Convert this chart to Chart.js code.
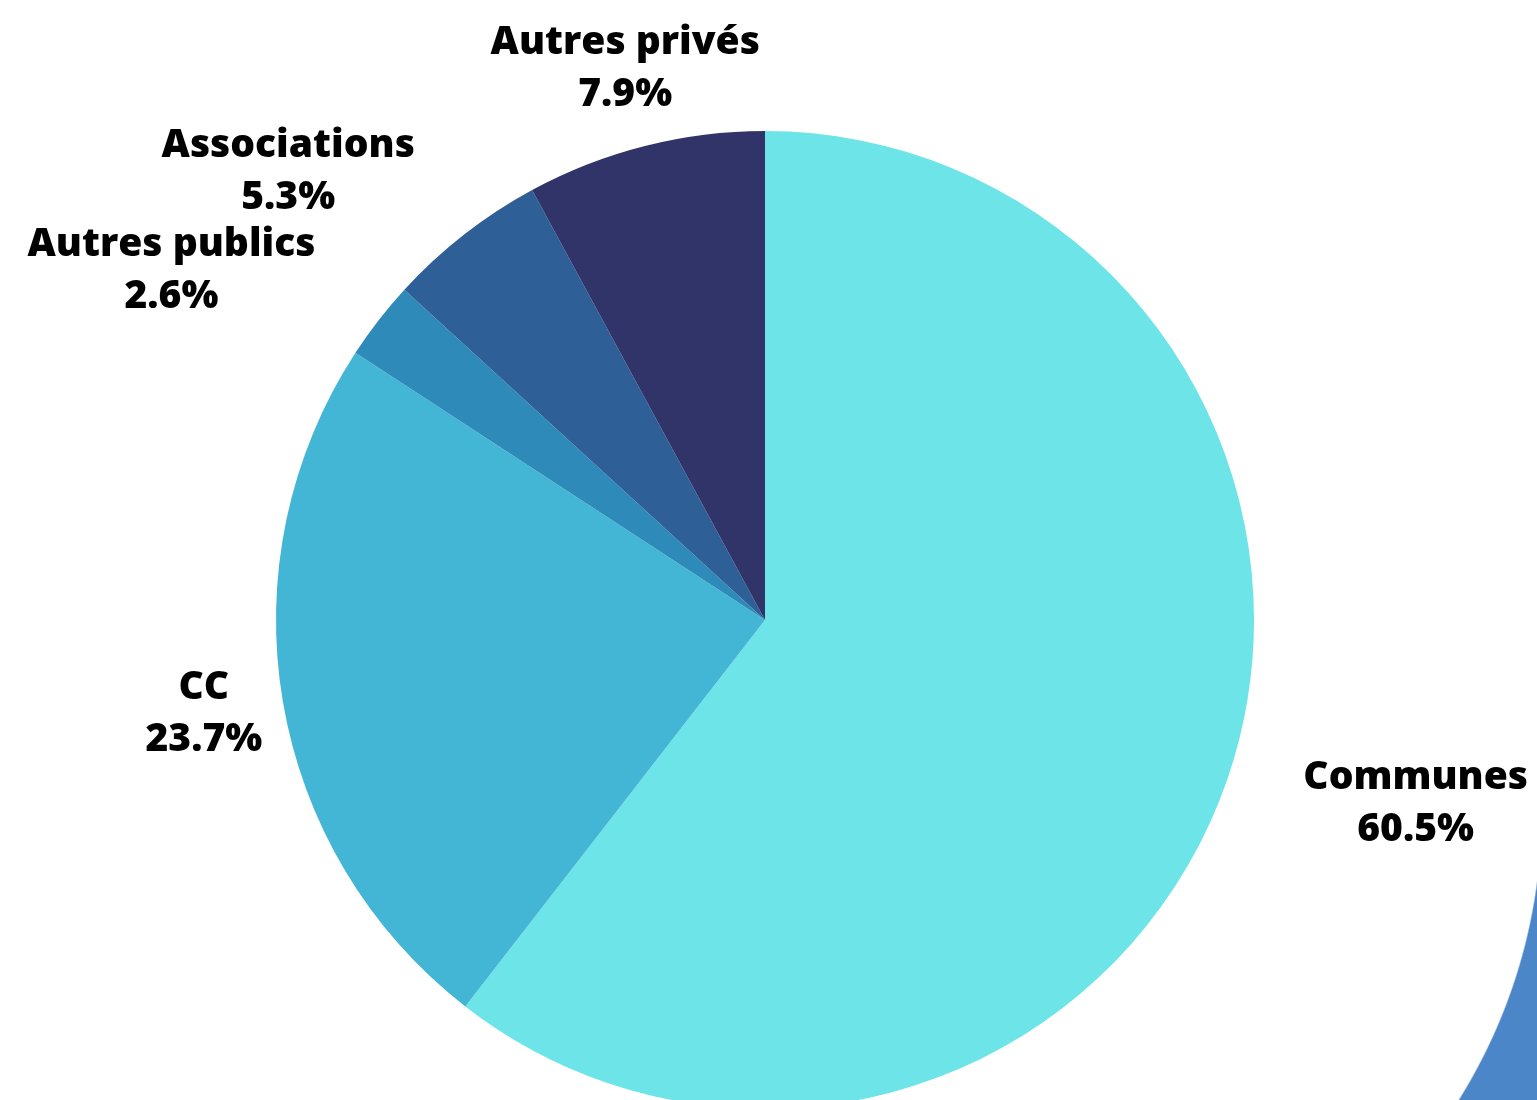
<!DOCTYPE html>
<html>
<head>
<meta charset="utf-8">
<script src="https://cdn.jsdelivr.net/npm/chart.js@4/dist/chart.umd.min.js"></script>
<style>
  html, body { margin: 0; padding: 0; background: #fff; overflow: hidden; }
  body { width: 1537px; height: 1100px; position: relative; }
  #deco {
    position: absolute; left: 1380px; top: 840px; width: 157px; height: 260px;
    background: radial-gradient(circle 545px at -383px -29px, rgba(255,255,255,0) 544px, #4A86C8 545.5px);
  }
  #wrap { position: absolute; left: 0; top: 0; width: 1537px; height: 1120px; }
</style>
</head>
<body>
<div id="deco"></div>
<div id="wrap"><canvas id="pie" width="1537" height="1120"></canvas></div>
<script>
// data
const categories = ['Communes', 'CC', 'Autres publics', 'Associations', 'Autres privés'];
const shares = [60.5, 23.7, 2.6, 5.3, 7.9];
const colors = ['#6CE4E8', '#43B6D5', '#2D8AB9', '#2E5F96', '#313469'];

// label placement: alignment of the text block relative to its anchor
const labelAlign = ['left', 'center', 'right', 'right', 'center'];

const outsideLabels = {
    id: 'outsideLabels',
    afterDatasetsDraw(chart) {
        const ctx = chart.ctx;
        const meta = chart.getDatasetMeta(0);
        ctx.save();
        ctx.font = '800 39px "Open Sans"';
        ctx.fillStyle = '#000';
        ctx.textBaseline = 'middle';
        meta.data.forEach((arc, i) => {
            const mid = (arc.startAngle + arc.endAngle) / 2;
            const dist = arc.outerRadius + 80;
            const ax = arc.x + Math.cos(mid) * dist;
            const ay = arc.y + Math.sin(mid) * dist;
            const lines = [categories[i], shares[i].toFixed(1) + '%'];
            const w = Math.max(...lines.map(l => ctx.measureText(l).width));
            let cx = ax;
            if (labelAlign[i] === 'left') cx = ax + w / 2;
            if (labelAlign[i] === 'right') cx = ax - w / 2;
            ctx.textAlign = 'center';
            ctx.fillText(lines[0], cx, ay - 26);
            ctx.fillText(lines[1], cx, ay + 26);
        });
        ctx.restore();
    }
};

new Chart(document.getElementById('pie'), {
    type: 'pie',
    data: {
        labels: categories,
        datasets: [{
            data: shares,
            backgroundColor: colors,
            borderWidth: 0
        }]
    },
    options: {
        responsive: false,
        animation: false,
        layout: { padding: { top: 131, left: 276, right: 283, bottom: 11 } },
        plugins: {
            legend: { display: false },
            tooltip: { enabled: false }
        }
    },
    plugins: [outsideLabels]
});
</script>
</body>
</html>
